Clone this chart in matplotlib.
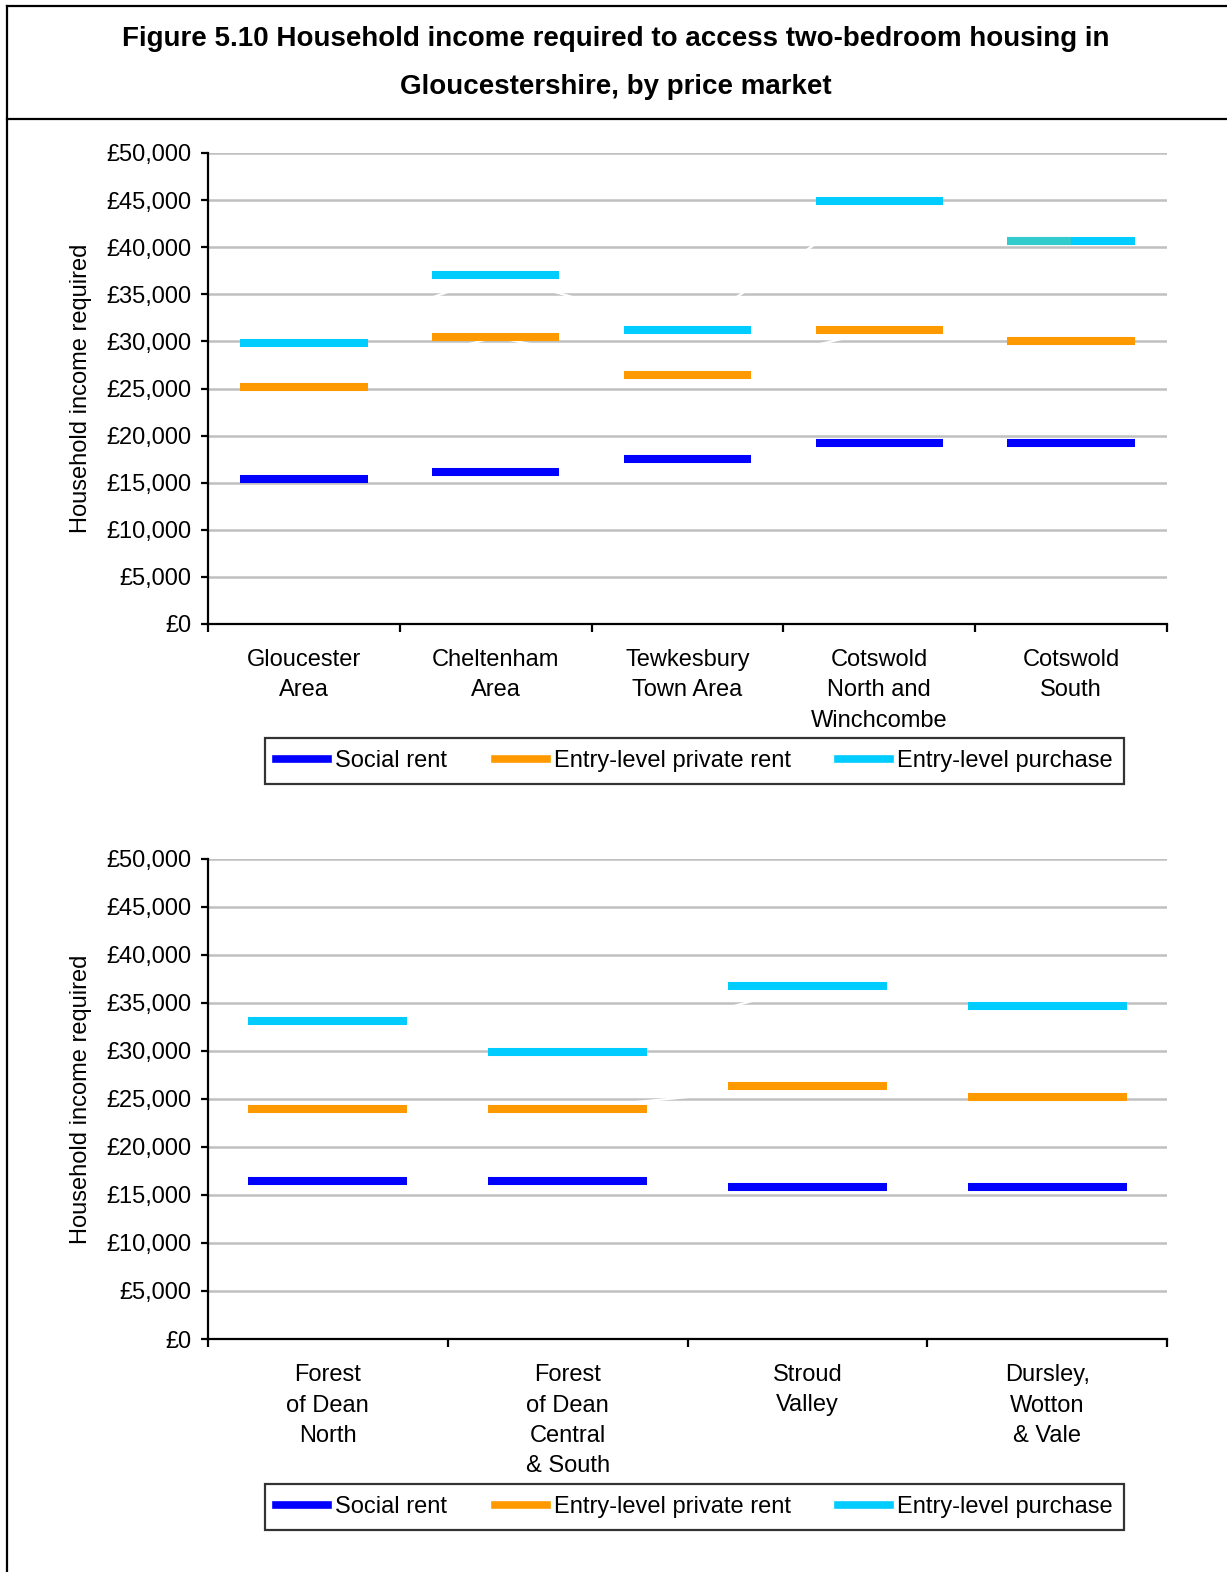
import matplotlib
matplotlib.use('Agg')
import matplotlib.pyplot as plt
from matplotlib.lines import Line2D
from matplotlib.ticker import FuncFormatter, MultipleLocator

plt.rcParams['font.family'] = ['Liberation Sans', 'DejaVu Sans']

# --- data ---
top_areas = ['Gloucester\nArea', 'Cheltenham\nArea', 'Tewkesbury\nTown Area',
             'Cotswold\nNorth and\nWinchcombe', 'Cotswold\nSouth']
top_social = [15350, 16150, 17500, 19200, 19200]
top_private = [25200, 30450, 26400, 31200, 30000]
top_purchase = [29850, 37050, 31200, 44900, 40700]
# small teal overlap visible on the left half of the Cotswold South marker
top_overlap = [None, None, None, None, 40700]

bot_areas = ['Forest\nof Dean\nNorth', 'Forest\nof Dean\nCentral\n& South',
             'Stroud\nValley', 'Dursley,\nWotton\n& Vale']
bot_social = [16500, 16500, 15800, 15800]
bot_private = [24000, 24000, 26400, 25200]
bot_purchase = [33100, 29900, 36800, 34650]

series_names = ['Social rent', 'Entry-level private rent', 'Entry-level purchase']
series_colors = ['#0000FF', '#FF9900', '#00CCFF']
overlap_color = '#33CCCC'

W, H = 1227, 1572
fig = plt.figure(figsize=(W / 100, H / 100), dpi=100)

# frame around title
fig.add_artist(Line2D([7 / W, 1], [1 - 6 / H, 1 - 6 / H], color='black', lw=1.6))
fig.add_artist(Line2D([7 / W, 1], [1 - 119 / H, 1 - 119 / H], color='black', lw=1.6))
fig.add_artist(Line2D([7 / W, 7 / W], [0, 1 - 6 / H], color='black', lw=1.6))

fig.text(616 / W, 1 - 39 / H, 'Figure 5.10 Household income required to access two-bedroom housing in',
         ha='center', va='center', fontsize=20, fontweight='bold')
fig.text(616 / W, 1 - 87 / H, 'Gloucestershire, by price market',
         ha='center', va='center', fontsize=20, fontweight='bold')

half = 0.332
FS = 17


def draw_panel(rect, areas, data, overlap=None):
    ax = fig.add_axes(rect)
    n = len(areas)
    xs = list(range(n))
    for vals, col in zip(data, series_colors):
        # white connecting line (cuts the gridlines like the original)
        ax.plot(xs, vals, color='white', lw=1.6, zorder=2)
        ax.hlines(vals, [x - half for x in xs], [x + half for x in xs],
                  colors=col, lw=5.8, zorder=3)
    if overlap is not None:
        for x, v in zip(xs, overlap):
            if v is not None:
                ax.hlines(v, x - half, x, colors=overlap_color, lw=5.8, zorder=4)

    ax.set_xlim(-0.5, n - 0.5)
    ax.set_ylim(0, 50000)
    ax.yaxis.set_major_locator(MultipleLocator(5000))
    ax.yaxis.set_major_formatter(FuncFormatter(lambda v, p: '£{:,.0f}'.format(v)))
    ax.grid(axis='y', color='#C0C0C0', lw=1.8, zorder=1)
    ax.set_axisbelow(True)
    for s in ['top', 'right']:
        ax.spines[s].set_visible(False)
    for s in ['left', 'bottom']:
        ax.spines[s].set_linewidth(1.6)
        ax.spines[s].set_zorder(5)
    ax.set_xticks([i - 0.5 for i in range(n + 1)])
    ax.set_xticklabels([])
    ax.tick_params(axis='x', direction='out', length=6, width=1.6)
    ax.tick_params(axis='y', direction='out', length=5, width=1.6, labelsize=FS, pad=7)
    for i, lab in enumerate(areas):
        ax.annotate(lab, (i, 0), xycoords=('data', 'axes fraction'), xytext=(0, -18),
                    textcoords='offset points', ha='center', va='top',
                    fontsize=FS, linespacing=1.5)
    ax.set_ylabel('Household income required', fontsize=FS, labelpad=10)
    return ax


ax1 = draw_panel([208 / W, 1 - 624 / H, 959 / W, 471 / H], top_areas,
                 [top_social, top_private, top_purchase], top_overlap)
ax2 = draw_panel([208 / W, 1 - 1339 / H, 959 / W, 480 / H], bot_areas,
                 [bot_social, bot_private, bot_purchase])

handles = [Line2D([], [], color=c, lw=5.5) for c in series_colors]
for yc in [761, 1507]:
    leg = fig.legend(handles, series_names, loc='center', bbox_to_anchor=(694.5 / W, 1 - yc / H),
                     ncol=3, fontsize=FS, frameon=True, fancybox=False, edgecolor='black',
                     handlelength=2.2, handletextpad=0.3, columnspacing=2.0, borderpad=0.5)
    leg.get_frame().set_linewidth(1.6)

fig.savefig('out.png', dpi=100)
